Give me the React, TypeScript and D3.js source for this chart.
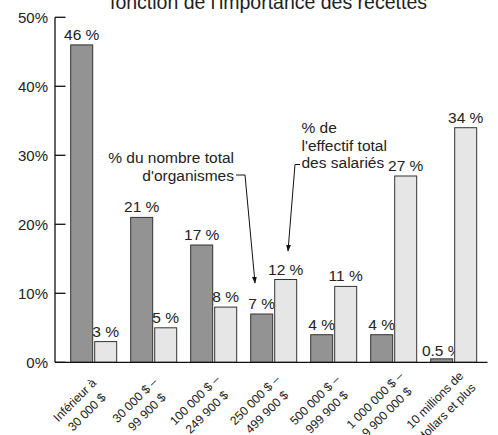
import React from 'react';
import * as d3 from 'd3';

// revenue brackets (two-line labels)
const categories = [
  ['Inférieur à', '30 000 $'],
  ['30 000 $ –', '99 900 $'],
  ['100 000 $ –', '249 900 $'],
  ['250 000 $ –', '499 900 $'],
  ['500 000 $ –', '999 900 $'],
  ['1 000 000 $ –', '9 900 000 $'],
  ['10 millions de', 'dollars et plus'],
];
const orgShare = [46, 21, 17, 7, 4, 4, 0.5];
const orgLabels = ['46 %', '21 %', '17 %', '7 %', '4 %', '4 %', '0.5 %'];
const staffShare = [3, 5, 8, 12, 11, 27, 34];
const staffLabels = ['3 %', '5 %', '8 %', '12 %', '11 %', '27 %', '34 %'];
const yTicks = [0, 10, 20, 30, 40, 50];
const series = ['org', 'staff'];

const W = 498;
const H = 435;
const FONT = '"Liberation Sans", Arial, Helvetica, sans-serif';
const DARK = '#939393';
const LIGHT = '#e6e6e6';
const STROKE = '#333';

const App = () => {
  const keys = categories.map((c) => c.join(' '));

  const x = d3.scaleBand<string>()
    .domain(keys)
    .range([63.7, 483.7])
    .paddingInner(0.2333)
    .paddingOuter(0.1167);

  const xs = d3.scaleBand<string>()
    .domain(series)
    .range([0, x.bandwidth()])
    .paddingInner(0.0833);

  const y = d3.scaleLinear().domain([0, 50]).range([362.3, 17.3]);

  const axisX = 55;
  const baseEnd = 487.5;

  const bars = keys.flatMap((k, i) => [
    { key: k, s: 'org', v: orgShare[i], label: orgLabels[i] },
    { key: k, s: 'staff', v: staffShare[i], label: staffLabels[i] },
  ]);

  return (
    <svg width={W} height={H} style={{ position: 'absolute', left: 0, top: 0 }} fontFamily={FONT}>
      <defs>
        <marker id="arr" viewBox="0 0 10 10" refX="9" refY="5" markerWidth="7" markerHeight="7" orient="auto">
          <path d="M0,1.5 L10,5 L0,8.5 Z" fill="#111" />
        </marker>
      </defs>

      {/* title (top line cut off in the original) */}
      <text x={268.5} y={8.5} textAnchor="middle" fontSize={19.5} fill="#222">
        fonction de l'importance des recettes
      </text>

      {/* bars */}
      {bars.map((b, i) => {
        const bx = (x(b.key) as number) + (xs(b.s) as number);
        const by = y(b.v);
        return (
          <g key={i}>
            <rect
              x={bx}
              y={by}
              width={xs.bandwidth()}
              height={y(0) - by}
              fill={b.s === 'org' ? DARK : LIGHT}
              stroke={STROKE}
              strokeWidth={1}
            />
            <text
              x={bx + xs.bandwidth() / 2}
              y={by - (b.v < 1 ? 3 : 5)}
              textAnchor="middle"
              fontSize={15.5}
              fill="#222"
            >
              {b.label}
            </text>
          </g>
        );
      })}

      {/* y axis */}
      <line x1={axisX} x2={axisX} y1={y(50)} y2={y(0)} stroke="#111" strokeWidth={1.3} />
      {yTicks.map((t) => (
        <g key={t}>
          <line x1={axisX} x2={axisX + 10.5} y1={y(t)} y2={y(t)} stroke="#111" strokeWidth={1.3} />
          <text x={48} y={y(t)} dy="0.36em" textAnchor="end" fontSize={15} fill="#222">
            {t}%
          </text>
        </g>
      ))}
      <line x1={axisX} x2={baseEnd} y1={y(0)} y2={y(0)} stroke="#111" strokeWidth={1.3} />

      {/* category labels, rotated */}
      {categories.map((c, i) => {
        const cx = (x(keys[i]) as number) + x.bandwidth() / 2 - 13;
        return (
          <text
            key={i}
            transform={`translate(${cx},406) rotate(-45)`}
            textAnchor="middle"
            fontSize={12.2}
            fill="#222"
          >
            <tspan x={0} y={-4.2}>{c[0]}</tspan>
            <tspan x={0} y={12.8}>{c[1]}</tspan>
          </text>
        );
      })}

      {/* annotations */}
      <text textAnchor="end" fontSize={15.5} fill="#222">
        <tspan x={234} y={163.3}>% du nombre total</tspan>
        <tspan x={234} y={181}>d'organismes</tspan>
      </text>
      <polyline
        points="236,175 245,175 255,283"
        fill="none"
        stroke="#111"
        strokeWidth={1}
        markerEnd="url(#arr)"
      />

      <text textAnchor="start" fontSize={15.5} fill="#222">
        <tspan x={301.5} y={133}>% de</tspan>
        <tspan x={301.5} y={150.5}>l'effectif total</tspan>
        <tspan x={301.5} y={168}>des salariés</tspan>
      </text>
      <polyline
        points="300,164.5 295,164.5 288,251"
        fill="none"
        stroke="#111"
        strokeWidth={1}
        markerEnd="url(#arr)"
      />
    </svg>
  );
};

export default App;
